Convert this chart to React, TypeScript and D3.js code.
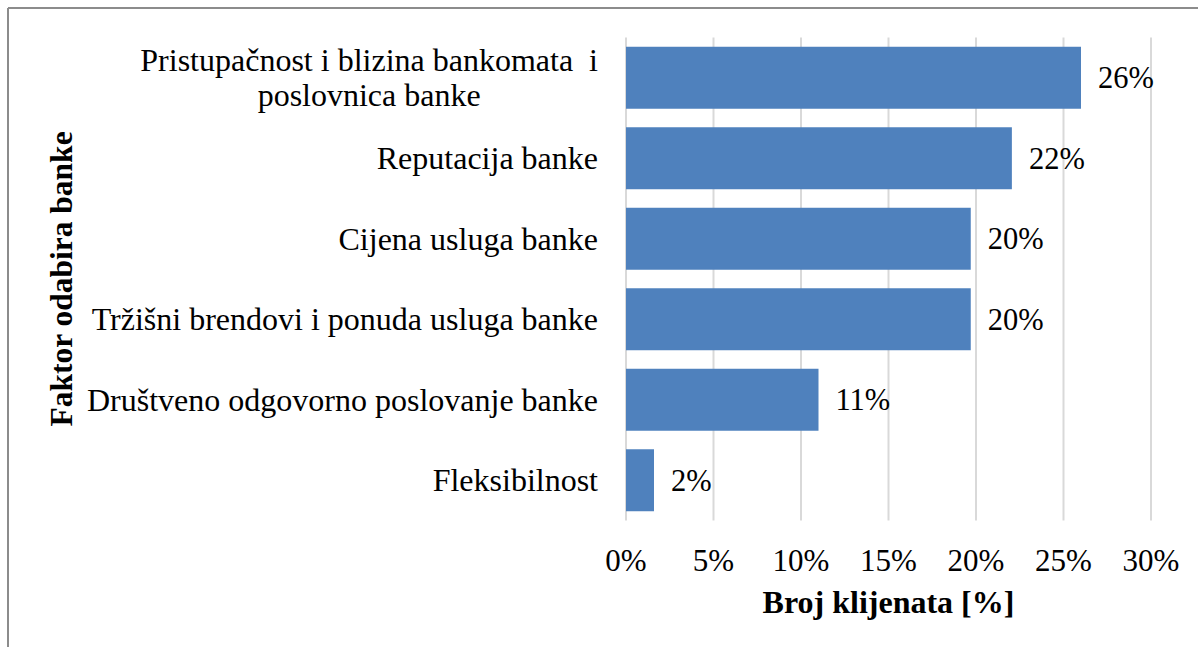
import React, { useEffect, useRef } from "react";
import * as d3 from "d3";

const categories: string[][] = [
  ["Pristupačnost i blizina bankomata  i", "poslovnica banke"],
  ["Reputacija banke"],
  ["Cijena usluga banke"],
  ["Tržišni brendovi i ponuda usluga banke"],
  ["Društveno odgovorno poslovanje banke"],
  ["Fleksibilnost"],
];
const values: number[] = [26.0, 22.05, 19.7, 19.7, 11.0, 1.6];
const xTicks: number[] = [0, 5, 10, 15, 20, 25, 30];
const xTitle = "Broj klijenata [%]";
const yTitle = "Faktor odabira banke";

const W = 1198;
const H = 647;
const FONT = "'Liberation Serif', 'Times New Roman', serif";

export default function App() {
  const ref = useRef<SVGSVGElement>(null);

  useEffect(() => {
    const svg = d3.select(ref.current);
    svg.selectAll("*").remove();

    const x = d3.scaleLinear().domain([0, 30]).range([626, 1151]);
    const y = d3
      .scaleBand<number>()
      .domain(d3.range(categories.length))
      .range([37.5, 520.5])
      .paddingInner(0.23)
      .paddingOuter(0.115);

    // frame
    svg.append("line").attr("x1", 8).attr("x2", W).attr("y1", 8).attr("y2", 8)
      .attr("stroke", "#8c8c8c").attr("stroke-width", 2);
    svg.append("line").attr("x1", 8).attr("x2", 8).attr("y1", 8).attr("y2", H)
      .attr("stroke", "#8c8c8c").attr("stroke-width", 2);

    // gridlines
    svg.append("g").selectAll("line").data(xTicks).join("line")
      .attr("x1", (d) => x(d)).attr("x2", (d) => x(d))
      .attr("y1", 37.5).attr("y2", 520.5)
      .attr("stroke", "#d9d9d9").attr("stroke-width", 2);

    // bars
    svg.append("g").selectAll("rect").data(values).join("rect")
      .attr("x", x(0))
      .attr("y", (_, i) => y(i)!)
      .attr("width", (d) => x(d) - x(0))
      .attr("height", y.bandwidth())
      .attr("fill", "#4f81bd");

    // data labels
    svg.append("g").selectAll("text").data(values).join("text")
      .attr("x", (d) => x(d) + 17)
      .attr("y", (_, i) => y(i)! + y.bandwidth() / 2)
      .attr("dy", "0.35em")
      .attr("font-family", FONT).attr("font-size", 30.5).attr("fill", "#000")
      .text((d) => d3.format(".0f")(d) + "%");

    // x tick labels
    svg.append("g").selectAll("text").data(xTicks).join("text")
      .attr("x", (d) => x(d))
      .attr("y", 560)
      .attr("dy", "0.35em")
      .attr("text-anchor", "middle")
      .attr("font-family", FONT).attr("font-size", 31).attr("fill", "#000")
      .text((d) => d + "%");

    // category labels
    const lineH = 35;
    const catG = svg.append("g");
    categories.forEach((lines, i) => {
      const cy = y(i)! + y.bandwidth() / 2;
      const n = lines.length;
      const t = catG.append("text")
        .attr("font-family", FONT).attr("font-size", 32).attr("fill", "#000")
        .style("white-space", "pre");
      const first = t.append("tspan").attr("x", 598)
        .attr("y", cy - ((n - 1) * lineH) / 2).attr("dy", "0.35em")
        .attr("text-anchor", "end").text(lines[0]);
      if (n > 1) {
        const w = (first.node() as SVGTSpanElement).getComputedTextLength();
        lines.slice(1).forEach((ln, k) => {
          t.append("tspan").attr("x", 598 - w / 2)
            .attr("y", cy - ((n - 1) * lineH) / 2 + (k + 1) * lineH)
            .attr("dy", "0.35em").attr("text-anchor", "middle").text(ln);
        });
      }
    });

    // axis titles
    svg.append("text")
      .attr("x", (x(0) + x(30)) / 2).attr("y", 613)
      .attr("text-anchor", "middle")
      .attr("font-family", FONT).attr("font-size", 32).attr("font-weight", "bold")
      .attr("fill", "#000").text(xTitle);
    svg.append("text")
      .attr("transform", `translate(72, ${(37.5 + 520.5) / 2}) rotate(-90)`)
      .attr("text-anchor", "middle")
      .attr("font-family", FONT).attr("font-size", 31.5).attr("font-weight", "bold")
      .attr("fill", "#000").text(yTitle);
  }, []);

  return (
    <svg
      ref={ref}
      width={W}
      height={H}
      style={{ position: "absolute", left: 0, top: 0, background: "#fff" }}
    />
  );
}
